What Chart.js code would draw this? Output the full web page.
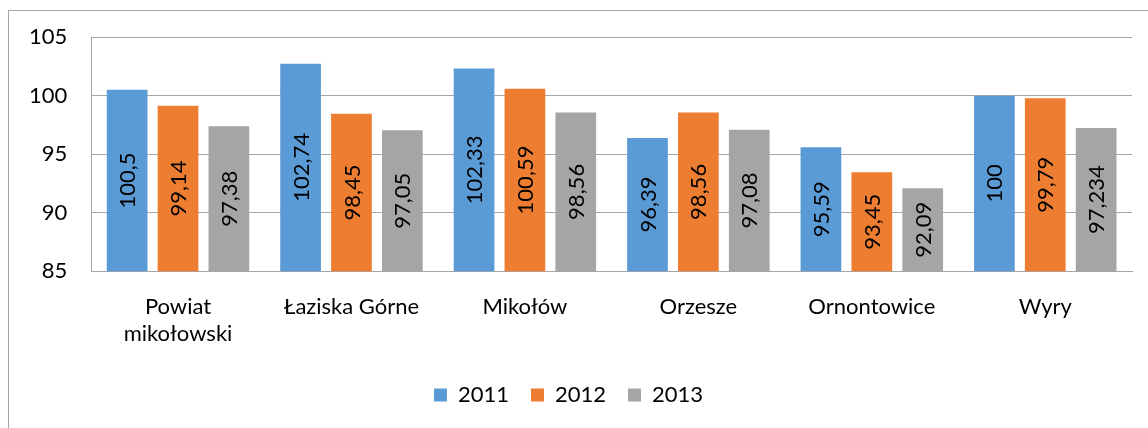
<!DOCTYPE html>
<html>
<head>
<meta charset="utf-8">
<script src="https://cdn.jsdelivr.net/npm/chart.js@4.4.0/dist/chart.umd.min.js"></script>
<style>
  html, body { margin: 0; padding: 0; background: #fff; }
  #wrap { position: relative; width: 1148px; height: 428px; overflow: hidden; }
  #frame { position: absolute; left: 8px; top: 10px; width: 1300px; height: 600px; border: 1px solid #a6a6a6; }
  #chart { position: absolute; left: 0; top: 0; }
</style>
</head>
<body>
<div id="wrap">
  <div id="frame"></div>
  <canvas id="chart" width="1148" height="428"></canvas>
</div>
<script>
// data
const categories = [['Powiat', 'mikołowski'], 'Łaziska Górne', 'Mikołów', 'Orzesze', 'Ornontowice', 'Wyry'];
const values2011 = [100.5, 102.74, 102.33, 96.39, 95.59, 100];
const values2012 = [99.14, 98.45, 100.59, 98.56, 93.45, 99.79];
const values2013 = [97.38, 97.05, 98.56, 97.08, 92.09, 97.234];
const yTicks = [85, 90, 95, 100, 105];

const FONT = 'Lato, sans-serif';

// value label, rotated, in the middle of the visible part of each bar
const barLabels = {
  id: 'barLabels',
  afterDatasetsDraw(chart) {
    const ctx = chart.ctx;
    const bottom = chart.chartArea.bottom;
    ctx.save();
    ctx.font = '22px ' + FONT;
    ctx.fillStyle = '#000';
    ctx.textAlign = 'center';
    ctx.textBaseline = 'middle';
    chart.data.datasets.forEach((ds, i) => {
      chart.getDatasetMeta(i).data.forEach((bar, j) => {
        const txt = String(ds.data[j]).replace('.', ',');
        const base = Math.min(bar.base, bottom);
        ctx.save();
        ctx.translate(bar.x, (bar.y + base) / 2);
        ctx.rotate(-Math.PI / 2);
        ctx.fillText(txt, 0, 1);
        ctx.restore();
      });
    });
    ctx.restore();
  }
};

Chart.defaults.font.family = FONT;
Chart.defaults.font.size = 22;
Chart.defaults.color = '#000';

new Chart(document.getElementById('chart'), {
  type: 'bar',
  data: {
    labels: categories,
    datasets: [
      { label: '2011', data: values2011, backgroundColor: '#5b9bd5' },
      { label: '2012', data: values2012, backgroundColor: '#ed7d31' },
      { label: '2013', data: values2013, backgroundColor: '#a5a5a5' }
    ]
  },
  options: {
    responsive: false,
    animation: false,
    devicePixelRatio: 1,
    categoryPercentage: 0.88,
    barPercentage: 0.8,
    layout: { padding: { left: 5, right: 16, top: 35, bottom: 12 } },
    plugins: {
      legend: {
        position: 'bottom',
        labels: { boxWidth: 13, boxHeight: 13, padding: 22, font: { size: 22 } }
      },
      tooltip: { enabled: false }
    },
    scales: {
      x: {
        grid: { display: false },
        border: { color: '#a6a6a6', width: 1 },
        ticks: { padding: 15, font: { size: 22 }, maxRotation: 0, autoSkip: false }
      },
      y: {
        min: 85,
        max: 105,
        afterBuildTicks(axis) { axis.ticks = yTicks.map(v => ({ value: v })); },
        grid: { color: '#a6a6a6', lineWidth: 1, drawTicks: false },
        border: { color: '#a6a6a6', width: 1 },
        ticks: { padding: 24, font: { size: 22 } }
      }
    }
  },
  plugins: [barLabels]
});
</script>
</body>
</html>
